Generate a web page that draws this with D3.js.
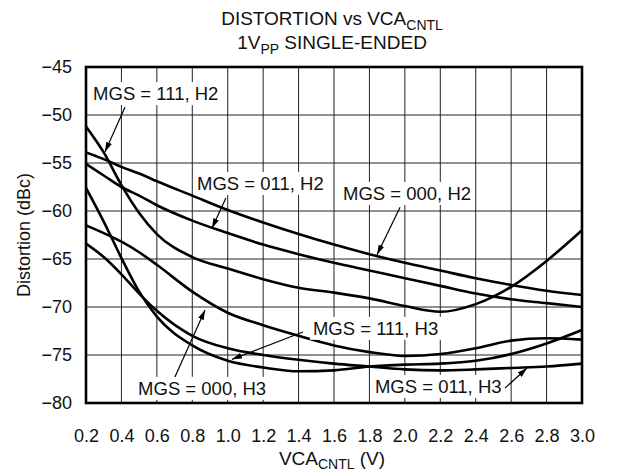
<!DOCTYPE html>
<html>
<head>
<meta charset="utf-8">
<script src="https://cdn.jsdelivr.net/npm/d3@7/dist/d3.min.js"></script>
<style>
  body { margin: 0; background: #fff; }
  text { font-family: "Liberation Sans", Arial, Helvetica, sans-serif; fill: #111; }
</style>
</head>
<body>
<div id="chart"></div>
<script>
// x values (VCA_CNTL, V) shared by every curve
const vca = [0.2, 0.3, 0.4, 0.5, 0.6, 0.8, 1.0, 1.2, 1.4, 1.6, 1.8, 2.0, 2.2, 2.4, 2.6, 2.8, 3.0];

// distortion (dBc)
const mgs111H2 = [-51.2, -53.9, -57.3, -60.2, -62.4, -64.8, -66.0, -67.1, -68.0, -68.5, -69.1, -69.9, -70.5, -69.7, -67.9, -65.2, -62.0];
const mgs000H2 = [-53.9, -54.6, -55.4, -56.1, -56.9, -58.4, -59.9, -61.2, -62.4, -63.5, -64.5, -65.4, -66.2, -67.0, -67.7, -68.3, -68.75];
const mgs011H2 = [-55.1, -56.3, -57.5, -58.4, -59.4, -61.0, -62.3, -63.5, -64.5, -65.4, -66.2, -67.0, -67.8, -68.6, -69.2, -69.6, -70.0];
const mgs111H3 = [-57.6, -61.1, -64.9, -68.4, -71.0, -74.0, -75.6, -76.3, -76.7, -76.6, -76.2, -76.0, -75.9, -75.6, -74.9, -73.8, -72.4];
const mgs000H3 = [-61.5, -62.3, -63.2, -64.3, -65.6, -68.4, -70.6, -71.9, -73.0, -74.0, -74.7, -75.1, -74.9, -74.3, -73.5, -73.25, -73.4];
const mgs011H3 = [-63.4, -64.8, -66.6, -68.6, -70.4, -73.0, -74.3, -75.0, -75.5, -75.9, -76.2, -76.5, -76.6, -76.5, -76.35, -76.2, -75.9];

const xTicks = [0.2, 0.4, 0.6, 0.8, 1.0, 1.2, 1.4, 1.6, 1.8, 2.0, 2.2, 2.4, 2.6, 2.8, 3.0];
const yTicks = [-45, -50, -55, -60, -65, -70, -75, -80];

// callouts: text anchor and arrow (start -> tip), all in data units
const labels = [
  {text: "MGS = 111, H2", x: 0.24, y: -48.45, ax: 0.42, ay: -49.2, tx: 0.307, ty: -53.85},
  {text: "MGS = 011, H2", x: 0.827, y: -57.8, ax: 0.99, ay: -58.65, tx: 0.911, ty: -61.8},
  {text: "MGS = 000, H2", x: 1.651, y: -58.85, ax: 1.973, ay: -59.6, tx: 1.843, ty: -64.55},
  {text: "MGS = 111, H3", x: 1.481, y: -72.9, ax: 1.425, ay: -72.6, tx: 1.024, ty: -75.45},
  {text: "MGS = 000, H3", x: 0.494, y: -79.15, ax: 0.702, ay: -77.3, tx: 0.872, ty: -70.3},
  {text: "MGS = 011, H3", x: 1.831, y: -78.95, ax: 2.565, ay: -78.45, tx: 2.69, ty: -76.35}
];

const margin = {top: 67, right: 37, bottom: 71, left: 86};
const W = 619, H = 474;
const width = W - margin.left - margin.right;
const height = H - margin.top - margin.bottom;

const svg = d3.select("#chart").append("svg")
  .attr("width", W).attr("height", H);

svg.append("defs").append("marker")
  .attr("id", "head")
  .attr("viewBox", "0 0 10 6")
  .attr("refX", 10).attr("refY", 3)
  .attr("markerWidth", 10).attr("markerHeight", 6)
  .attr("markerUnits", "userSpaceOnUse")
  .attr("orient", "auto")
  .append("path").attr("d", "M0,0 L10,3 L0,6 Z").attr("fill", "#000");

svg.select("defs").append("clipPath").attr("id", "plot-clip")
  .append("rect").attr("width", width).attr("height", height);

const g = svg.append("g").attr("transform", `translate(${margin.left},${margin.top})`);

const x = d3.scaleLinear().domain([0.2, 3.0]).range([0, width]);
const y = d3.scaleLinear().domain([-80, -45]).range([height, 0]);

// grid
g.append("g").selectAll("line").data(xTicks).enter().append("line")
  .attr("x1", d => x(d)).attr("x2", d => x(d))
  .attr("y1", 0).attr("y2", height)
  .attr("stroke", "#222").attr("stroke-width", 1);
g.append("g").selectAll("line").data(yTicks).enter().append("line")
  .attr("x1", 0).attr("x2", width)
  .attr("y1", d => y(d)).attr("y2", d => y(d))
  .attr("stroke", "#222").attr("stroke-width", 1);

// curves
const series = [mgs111H2, mgs000H2, mgs011H2, mgs111H3, mgs000H3, mgs011H3];
const line = d3.line()
  .x(d => x(d[0])).y(d => y(d[1]))
  .curve(d3.curveMonotoneX);

g.append("g").attr("clip-path", "url(#plot-clip)")
  .selectAll("path").data(series).enter().append("path")
  .attr("d", s => line(s.map((v, i) => [vca[i], v])))
  .attr("fill", "none").attr("stroke", "#000").attr("stroke-width", 2.6);

// callout labels with white boxes
const lab = g.append("g");
labels.forEach(l => {
  const t = lab.append("text")
    .attr("x", x(l.x)).attr("y", y(l.y))
    .attr("font-size", 18.5).text(l.text);
  const b = t.node().getBBox();
  lab.insert("rect", "text")
    .attr("x", b.x - 3).attr("y", b.y - 1)
    .attr("width", b.width + 6).attr("height", b.height + 2)
    .attr("fill", "#fff");
  lab.append("line")
    .attr("x1", x(l.ax)).attr("y1", y(l.ay))
    .attr("x2", x(l.tx)).attr("y2", y(l.ty))
    .attr("stroke", "#000").attr("stroke-width", 1.2)
    .attr("marker-end", "url(#head)");
});

// frame
g.append("rect").attr("width", width).attr("height", height)
  .attr("fill", "none").attr("stroke", "#000").attr("stroke-width", 2.6);

// axes (tick text only)
const xAxis = d3.axisBottom(x).tickValues(xTicks).tickSize(0).tickPadding(26)
  .tickFormat(d3.format(".1f"));
const gx = g.append("g").attr("transform", `translate(0,${height})`).call(xAxis);
gx.select(".domain").remove();
gx.selectAll("text").attr("font-size", 18).attr("fill", "#111");

const yAxis = d3.axisLeft(y).tickValues(yTicks).tickSize(0).tickPadding(14)
  .tickFormat(d => "\u2212" + Math.abs(d));
const gy = g.append("g").call(yAxis);
gy.select(".domain").remove();
gy.selectAll("text").attr("font-size", 18).attr("fill", "#111");

// titles
const title = svg.append("text").attr("x", 332).attr("y", 25)
  .attr("text-anchor", "middle").attr("font-size", 19);
title.append("tspan").text("DISTORTION vs VCA");
title.append("tspan").attr("dy", 5).attr("font-size", 14).text("CNTL");

const sub = svg.append("text").attr("x", 332).attr("y", 49)
  .attr("text-anchor", "middle").attr("font-size", 19);
sub.append("tspan").text("1V");
sub.append("tspan").attr("dy", 5).attr("font-size", 14).text("PP");
sub.append("tspan").attr("dy", -5).text(" SINGLE-ENDED");

const xl = svg.append("text").attr("x", 332).attr("y", 465)
  .attr("text-anchor", "middle").attr("font-size", 19);
xl.append("tspan").text("VCA");
xl.append("tspan").attr("dy", 4).attr("font-size", 14).text("CNTL");
xl.append("tspan").attr("dy", -4).text(" (V)");

svg.append("text")
  .attr("transform", `translate(30,${margin.top + height / 2}) rotate(-90)`)
  .attr("text-anchor", "middle").attr("font-size", 18)
  .text("Distortion (dBc)");
</script>
</body>
</html>
